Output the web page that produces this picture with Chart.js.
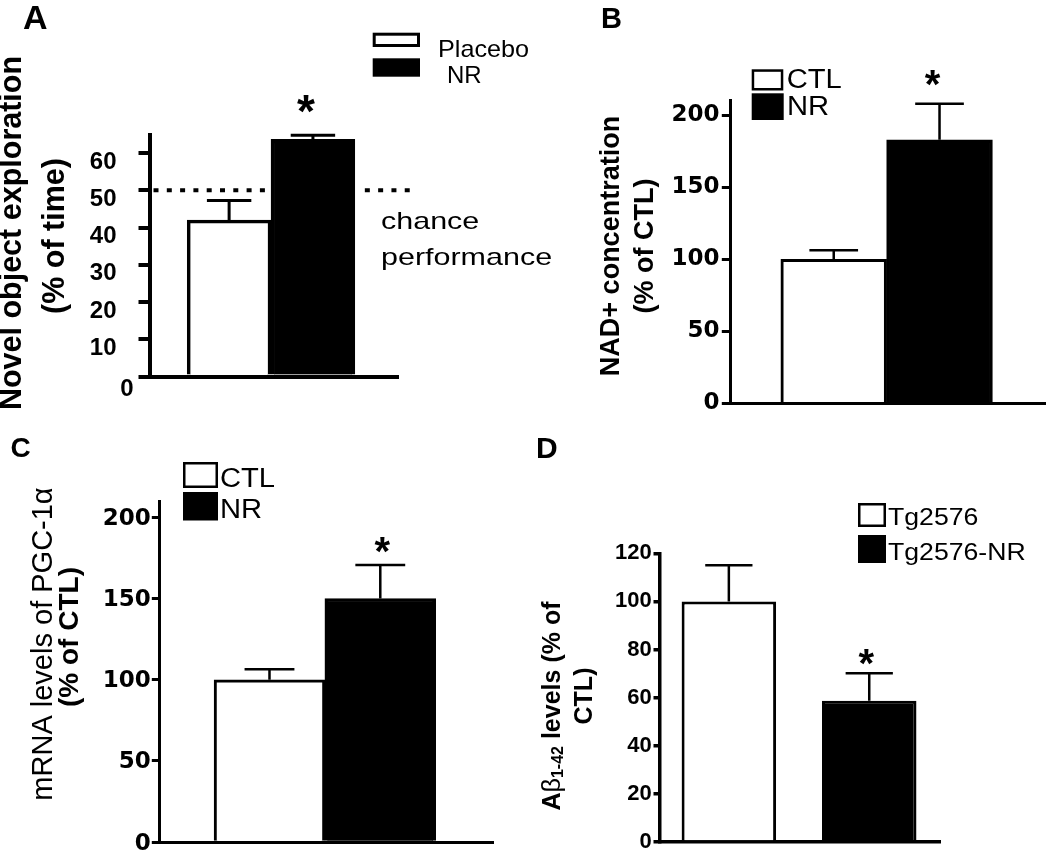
<!DOCTYPE html>
<html><head><meta charset="utf-8">
<script src="https://cdn.jsdelivr.net/npm/chart.js"></script>
<style>
html,body{margin:0;padding:0;background:#fff;width:1050px;height:857px;overflow:hidden}
canvas{position:absolute;left:0;top:0}
</style></head><body>
<canvas id="cA" width="1050" height="857"></canvas>
<canvas id="cB" width="1050" height="857"></canvas>
<canvas id="cC" width="1050" height="857"></canvas>
<canvas id="cD" width="1050" height="857"></canvas>
<script>
// ---------------- data ----------------
const groupsA = ['Placebo', 'NR'];
const valuesA = [42, 63.7];
const errorsA = [5.3, 1.1];
const ticksA  = [0, 10, 20, 30, 40, 50, 60];
const chanceA = 50;

const groupsB = ['CTL', 'NR'];
const valuesB = [100, 183];
const errorsB = [6.4, 25];
const ticksB  = [0, 50, 100, 150, 200];

const groupsC = ['CTL', 'NR'];
const valuesC = [100, 150];
const errorsC = [6.4, 20.6];
const ticksC  = [0, 50, 100, 150, 200];

const groupsD = ['Tg2576', 'Tg2576-NR'];
const valuesD = [100, 58.7];
const errorsD = [15, 11.5];
const ticksD  = [0, 20, 40, 60, 80, 100, 120];

const fills = ['#ffffff', '#000000'];
// --------------------------------------

const LS = '"Liberation Sans", Arial, sans-serif';
const NARROW = '"Liberation Sans Narrow", "Liberation Sans", Arial, sans-serif';
const W = 1050, H = 857;

function txt(ctx, s, x, y, o) {
  ctx.save();
  ctx.translate(x, y);
  if (o.rot) { ctx.rotate(-Math.PI / 2); ctx.scale(1, o.sx || 1); }
  else ctx.scale(o.sx || 1, 1);
  ctx.font = o.font;
  ctx.fillStyle = '#000';
  ctx.textAlign = o.align || 'left';
  ctx.textBaseline = o.base || 'alphabetic';
  ctx.fillText(s, 0, 0);
  ctx.restore();
}

function richRot(ctx, parts, cx, cy) {
  ctx.save();
  ctx.translate(cx, cy);
  ctx.rotate(-Math.PI / 2);
  ctx.fillStyle = '#000';
  ctx.textBaseline = 'middle';
  ctx.textAlign = 'left';
  let total = 0;
  parts.forEach(p => { ctx.font = p.f; p.w = ctx.measureText(p.t).width; total += p.w; });
  let x = -total / 2;
  parts.forEach(p => { ctx.font = p.f; ctx.fillText(p.t, x, p.dy || 0); x += p.w; });
  ctx.restore();
}

function drawDecor(chart, cfg) {
  const ctx = chart.ctx;
  const ys = chart.scales.y;
  ctx.save();
  // error bars
  cfg.values.forEach((v, i) => {
    const bar = chart.getDatasetMeta(i).data[0];
    const e = cfg.errors[i];
    const x = bar.x, y0 = ys.getPixelForValue(v), y1 = ys.getPixelForValue(v + e);
    const cw = bar.width * cfg.capFrac / 2;
    ctx.strokeStyle = '#000';
    ctx.lineWidth = cfg.errWidth;
    ctx.lineCap = 'butt';
    ctx.beginPath();
    ctx.moveTo(x, y0); ctx.lineTo(x, y1);
    ctx.moveTo(x - cw, y1); ctx.lineTo(x + cw, y1);
    ctx.stroke();
  });
  // significance star above treated group
  {
    const i = 1;
    const bar = chart.getDatasetMeta(i).data[0];
    const top = ys.getPixelForValue(cfg.values[i] + cfg.errors[i]);
    const fs = cfg.starSize;
    txt(ctx, '*', bar.x + cfg.starDx, top - cfg.starDy + 0.58 * fs, { font: 'bold ' + fs + 'px ' + LS, align: 'center' });
  }
  // panel letter
  txt(ctx, cfg.letter.t, cfg.letter.x, cfg.letter.y, { font: 'bold ' + cfg.letter.s + 'px ' + LS });
  // legend
  const L = cfg.legend;
  ctx.lineWidth = L.sw;
  ctx.strokeStyle = '#000';
  ctx.fillStyle = fills[0];
  ctx.fillRect(L.w[0], L.w[1], L.w[2], L.w[3]);
  ctx.strokeRect(L.w[0] + L.sw / 2, L.w[1] + L.sw / 2, L.w[2] - L.sw, L.w[3] - L.sw);
  ctx.fillStyle = fills[1];
  ctx.fillRect(L.b[0], L.b[1], L.b[2], L.b[3]);
  cfg.groups.forEach((g, i) => {
    txt(ctx, g, L.tx[i], L.ty[i], { font: L.fs + 'px ' + LS, sx: L.sx[i] });
  });
  // titles
  if (cfg.titleDraw) cfg.titleDraw(ctx);
  else cfg.titles.forEach(t => txt(ctx, t.t, t.x, t.y, { font: t.f, rot: true, align: 'center', base: 'middle' }));
  if (cfg.extra) cfg.extra(chart, ctx);
  ctx.restore();
}

function makePanel(id, cfg) {
  const a = cfg.area;
  const yW = a.left, xH = 10;
  const datasets = cfg.groups.map((g, i) => ({
    label: g,
    data: [{ x: i + 1, y: cfg.values[i] }],
    backgroundColor: fills[i],
    borderColor: '#000',
    borderWidth: cfg.barBorder,
    borderSkipped: 'bottom',
    grouped: false,
    barPercentage: cfg.barPct,
    categoryPercentage: 1
  }));
  return new Chart(document.getElementById(id), {
    type: 'bar',
    data: { datasets },
    options: {
      responsive: false,
      animation: false,
      events: [],
      layout: { padding: { left: 0, right: W - a.right, top: a.top, bottom: H - a.bottom - xH } },
      plugins: { legend: { display: false }, tooltip: { enabled: false } },
      scales: {
        x: {
          type: 'linear', min: cfg.xMin, max: cfg.xMax, offset: false,
          afterBuildTicks: s => { s.ticks = cfg.groups.map((g, i) => ({ value: i + 1 })); },
          afterFit: s => { s.height = xH; },
          ticks: { display: false },
          grid: { display: false },
          border: { display: true, color: '#000', width: cfg.axisWidth }
        },
        y: {
          min: 0, max: cfg.yMax,
          afterBuildTicks: s => { s.ticks = cfg.ticks.map(v => ({ value: v })); },
          afterFit: s => { s.width = yW; },
          ticks: {
            color: '#000', font: cfg.tickFont, padding: cfg.tickPad, labelOffset: cfg.labelOffset,
            callback: v => (cfg.hideZero && v === 0) ? '' : String(v)
          },
          grid: { display: true, drawOnChartArea: false, drawTicks: true, tickLength: cfg.tickLen,
                  tickWidth: cfg.axisWidth, tickColor: '#000', color: '#000', lineWidth: cfg.axisWidth },
          border: { display: true, color: '#000', width: cfg.axisWidth }
        }
      }
    },
    plugins: [{ id: 'decor' + id, afterDraw: ch => drawDecor(ch, cfg) }]
  });
}

// ---------- Panel A ----------
makePanel('cA', {
  groups: groupsA, values: valuesA, errors: errorsA, ticks: ticksA,
  area: { left: 149.5, right: 398, top: 134.5, bottom: 376.5 },
  xMin: 0.05, xMax: 3.015, yMax: 65, barPct: 1,
  tickFont: { family: NARROW, size: 24, weight: 'bold' },
  tickPad: 22, tickLen: 11, labelOffset: 9, axisWidth: 4, barBorder: 3.5, errWidth: 3, capFrac: 0.53,
  hideZero: true,
  starSize: 46, starDx: -7, starDy: 35,
  letter: { t: 'A', x: 23, y: 29, s: 34 },
  legend: { sw: 3, w: [372.7, 32.7, 47.3, 14.3], b: [372.7, 58.3, 47.3, 18.4],
            tx: [438, 447], ty: [57, 82.5], fs: 24, sx: [1.05, 1] },
  titles: [
    { t: 'Novel object exploration', x: 13, y: 233, f: 'bold 30.5px ' + LS },
    { t: '(% of time)', x: 56, y: 236, f: 'bold 30.5px ' + LS }
  ],
  extra: (chart, ctx) => {
    const ys = chart.scales.y, ca = chart.chartArea;
    const bar = chart.getDatasetMeta(1).data[0];
    const y = ys.getPixelForValue(chanceA);
    ctx.save();
    ctx.strokeStyle = '#000'; ctx.lineWidth = 4; ctx.setLineDash([5, 8.3]); ctx.lineCap = 'butt';
    ctx.beginPath();
    ctx.moveTo(ca.left + 4, y); ctx.lineTo(bar.x - bar.width / 2 - 6, y);
    ctx.moveTo(bar.x + bar.width / 2 + 10, y); ctx.lineTo(ca.right + 13, y);
    ctx.stroke();
    ctx.restore();
    // zero label of the y axis (set lower-left of origin, as in the original)
    txt(ctx, '0', ca.left - 16, ys.getPixelForValue(0) + 13,
        { font: 'bold 24px ' + NARROW, align: 'right', base: 'middle' });
    txt(ctx, 'chance', 381, 229, { font: '24px ' + LS, sx: 1.27 });
    txt(ctx, 'performance', 381, 265, { font: '24px ' + LS, sx: 1.27 });
  }
});

// ---------- Panel B ----------
makePanel('cB', {
  groups: groupsB, values: valuesB, errors: errorsB, ticks: ticksB,
  area: { left: 730.8, right: 1045, top: 100.8, bottom: 403.5 },
  xMin: 0.027, xMax: 2.997, yMax: 210, barPct: 1,
  tickFont: { family: '"DejaVu Sans", sans-serif', size: 23, weight: 'bold' },
  tickPad: 2.3, tickLen: 9, labelOffset: 0, axisWidth: 3, barBorder: 3, errWidth: 2.5, capFrac: 0.46,
  starSize: 40, starDx: -7, starDy: 29,
  letter: { t: 'B', x: 601, y: 28, s: 29 },
  legend: { sw: 2.5, w: [751.7, 69.3, 31.6, 21.2], b: [751.7, 93.3, 32, 26.7],
            tx: [786.7, 787], ty: [88.3, 115], fs: 27, sx: [1.08, 1.08] },
  titles: [
    { t: 'NAD+ concentration', x: 611.5, y: 246, f: 'bold 27px ' + LS },
    { t: '(% of CTL)', x: 645.5, y: 246, f: 'bold 27px ' + LS }
  ]
});

// ---------- Panel C ----------
makePanel('cC', {
  groups: groupsC, values: valuesC, errors: errorsC, ticks: ticksC,
  area: { left: 159.8, right: 493.3, top: 501.05, bottom: 842.3 },
  xMin: 0.01, xMax: 3.02, yMax: 210, barPct: 1,
  tickFont: { family: '"DejaVu Sans", sans-serif', size: 23, weight: 'bold' },
  tickPad: 1, tickLen: 8, labelOffset: 1.5, axisWidth: 3, barBorder: 3, errWidth: 2.5, capFrac: 0.45,
  starSize: 40, starDx: 2, starDy: 23,
  letter: { t: 'C', x: 10.5, y: 457, s: 28 },
  legend: { sw: 2.5, w: [183, 462, 35, 26], b: [183, 492, 35, 28.5],
            tx: [220, 220], ty: [487, 518], fs: 27, sx: [1.08, 1.08] },
  titles: [
    { t: 'mRNA levels of PGC-1α', x: 43.5, y: 644, f: '29px ' + LS },
    { t: '(% of CTL)', x: 70.5, y: 637, f: 'bold 28px ' + LS }
  ]
});

// ---------- Panel D ----------
makePanel('cD', {
  groups: groupsD, values: valuesD, errors: errorsD, ticks: ticksD,
  area: { left: 659.5, right: 940, top: 553.3, bottom: 844 },
  xMin: 0.506, xMax: 2.504, yMax: 120, barPct: 0.673,
  tickFont: { family: LS, size: 22, weight: 'bold' },
  tickPad: 1.7, tickLen: 6, labelOffset: 0, axisWidth: 3.5, barBorder: 3, errWidth: 2.5, capFrac: 0.5,
  starSize: 40, starDx: -3, starDy: 19,
  letter: { t: 'D', x: 536, y: 458, s: 30 },
  legend: { sw: 2.5, w: [858, 503, 28, 24], b: [858, 535, 28, 28],
            tx: [888, 888], ty: [525, 560], fs: 24, sx: [1.11, 1.11] },
  titleDraw: ctx => {
    richRot(ctx, [
      { t: 'A', f: 'bold 25px ' + LS },
      { t: 'β', f: '25px ' + LS },
      { t: '1-42', f: 'bold 16px ' + LS, dy: 6 },
      { t: ' levels (% of', f: 'bold 25px ' + LS }
    ], 553, 706);
    richRot(ctx, [{ t: 'CTL)', f: 'bold 25px ' + LS }], 585, 696);
  }
});
</script>
</body></html>
